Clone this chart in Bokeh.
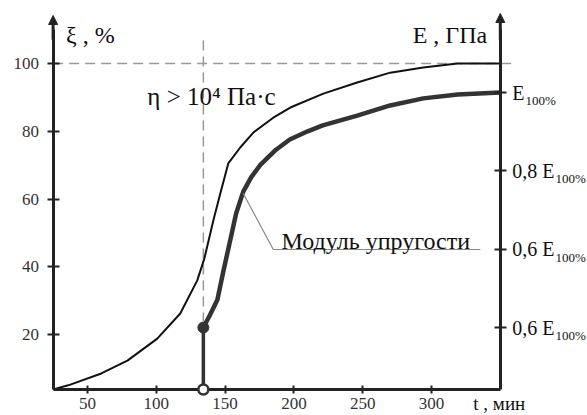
from bokeh.plotting import figure
from bokeh.models import Range1d, LinearAxis, FixedTicker, Label, Arrow, NormalHead
from bokeh.embed import file_html
from bokeh.resources import INLINE

# ---- data ----
t_conv = [25, 36, 60, 79, 100.7, 117.4, 129.7, 134.9, 141.5, 146.5, 152.3, 161, 170.5,
          185, 197.4, 221.4, 246, 270, 294, 318.8, 350]
xi_conv = [3.8, 5, 8.5, 12.3, 18.8, 26.2, 35.9, 42.4, 53.7, 61.6, 70.5, 75.2, 79.6,
           84, 87, 91.1, 94.4, 97.3, 98.8, 100, 100]

t_mod = [134.2, 139, 144.4, 148.5, 153.8, 158, 163.2, 169, 175.6, 187, 197, 210, 221, 246,
         270, 294, 319, 350]
e_mod = [0.40, 0.432, 0.471, 0.54, 0.624, 0.691, 0.747, 0.784, 0.815, 0.854, 0.880,
         0.901, 0.916, 0.941, 0.967, 0.985, 0.995, 1.0]

t_gel = 134.2          # gel point time
xi_full = 100          # 100 % conversion level

x_ticks = [50, 100, 150, 200, 250, 300]
y_ticks = [20, 40, 60, 80, 100]
e_ticks = [0.4, 0.6, 0.8, 1.0]
e_tick_labels = ["0,6 E", "0,6 E", "0,8 E", "E"]

t_axis0, t_axis1 = 25, 350          # extent of the time axis
xi_axis0 = 3.76                     # level of the time axis
e_axis0 = 0.2417                    # same level on the modulus scale

# visible window of the (full-canvas) plot area
x_lo, x_hi = -13.23, 413.37
y_lo, y_hi = -3.91, 118.60
e_lo, e_hi = 0.1754, 1.2349

leader_t = [163.2, 185, 335.5]
leader_xi = [61.6, 45.1, 45.1]

FONT = "'Liberation Serif'"
AX = "#222222"

p = figure(width=587, height=415, x_range=Range1d(x_lo, x_hi), y_range=Range1d(y_lo, y_hi),
           output_backend="svg", toolbar_location=None, min_border=0)
p.extra_y_ranges = {"E": Range1d(e_lo, e_hi)}
p.outline_line_color = None
p.grid.visible = False
p.background_fill_color = "white"

# axes
xa = p.xaxis[0]
xa.ticker = FixedTicker(ticks=x_ticks)
xa.fixed_location = xi_axis0
xa.bounds = (t_axis0, t_axis1)
ya = p.yaxis[0]
ya.ticker = FixedTicker(ticks=y_ticks)
ya.fixed_location = t_axis0
ya.bounds = (xi_axis0, 110)
ra = LinearAxis(y_range_name="E", ticker=FixedTicker(ticks=e_ticks),
                major_label_overrides={v: s for v, s in zip(e_ticks, e_tick_labels)},
                fixed_location=t_axis1, bounds=(e_axis0, 1.16))
p.add_layout(ra, "right")

for ax in (xa, ya, ra):
    ax.axis_line_width = 3
    ax.axis_line_color = AX
    ax.major_tick_line_width = 2
    ax.major_tick_line_color = AX
    ax.minor_tick_line_color = None
    ax.major_label_text_font = FONT
xa.major_tick_in = 4
xa.major_tick_out = 4
xa.major_label_standoff = 4
xa.major_label_text_font_size = "17px"
xa.major_label_text_color = "#333333"
ya.major_tick_in = 6
ya.major_tick_out = 6
ya.major_label_standoff = 8
ya.major_label_text_font_size = "17px"
ya.major_label_text_color = "#333333"
ra.major_tick_in = 6
ra.major_tick_out = 6
ra.major_label_standoff = 6
ra.major_label_text_font_size = "20px"
ra.major_label_text_color = "#111111"
ra.major_label_text_align = "left"

# subscripts "100%" of the right axis labels
widths = {"E": 12.2, "0,8 E": 42.2, "0,6 E": 42.2}
for v, s in zip(e_ticks, e_tick_labels):
    p.add_layout(Label(x=t_axis1, y=v, y_range_name="E", text="100%", text_font=FONT,
                       text_font_size="13px", text_color="#111111",
                       x_offset=13 + widths[s], y_offset=-8, text_baseline="alphabetic"))

# axis arrows
for xx, tip in ((t_axis0, 114.17), (t_axis1, 114.76)):
    p.add_layout(Arrow(x_start=xx, y_start=107, x_end=xx, y_end=tip,
                       line_width=3, line_color=AX,
                       end=NormalHead(size=9, fill_color=AX, line_color=AX)))

# dashed guide lines
p.line([t_axis0, 362], [xi_full, xi_full], line_color="#999999", line_width=1.5,
       line_dash="10 6")
p.line([t_gel, t_gel], [106.8, 24], line_color="#999999", line_width=1.5, line_dash="10 6")

# conversion curve
p.line(t_conv, xi_conv, line_color="#111111", line_width=2)

# modulus curve
p.line(t_mod, e_mod, y_range_name="E", line_color="#333333", line_width=4.5)
p.line([t_gel, t_gel], [e_axis0, e_mod[0]], y_range_name="E", line_color="#333333",
       line_width=3.5)
p.scatter([t_gel], [e_mod[0]], y_range_name="E", size=11, fill_color="#333333",
          line_color="#333333")
p.scatter([t_gel], [e_axis0], y_range_name="E", size=10, fill_color="white",
          line_color="#333333", line_width=2.5, level="overlay")

# leader line + label
p.line(leader_t, leader_xi, line_color="#888888", line_width=1.2)
p.add_layout(Label(x=191, y=47.5, text="Модуль упругости", text_font=FONT,
                   text_font_size="24px", text_color="#111111", text_baseline="alphabetic"))

p.add_layout(Label(x=93.5, y=90.4, text="η > 10⁴ Па·с", text_font=FONT,
                   text_font_size="25px", text_color="#111111", text_baseline="alphabetic"))
p.add_layout(Label(x=34.4, y=108.3, text="ξ , %", text_font=FONT,
                   text_font_size="24px", text_color="#111111", text_baseline="alphabetic"))
p.add_layout(Label(x=340.5, y=108.3, text="E , ГПа", text_font=FONT,
                   text_font_size="24px", text_color="#111111", text_baseline="alphabetic",
                   text_align="right"))
p.add_layout(Label(x=330.4, y=-0.4, text="t , мин", text_font=FONT,
                   text_font_size="19px", text_color="#111111", text_baseline="alphabetic"))

open("out.html", "w").write(file_html(p, INLINE))
